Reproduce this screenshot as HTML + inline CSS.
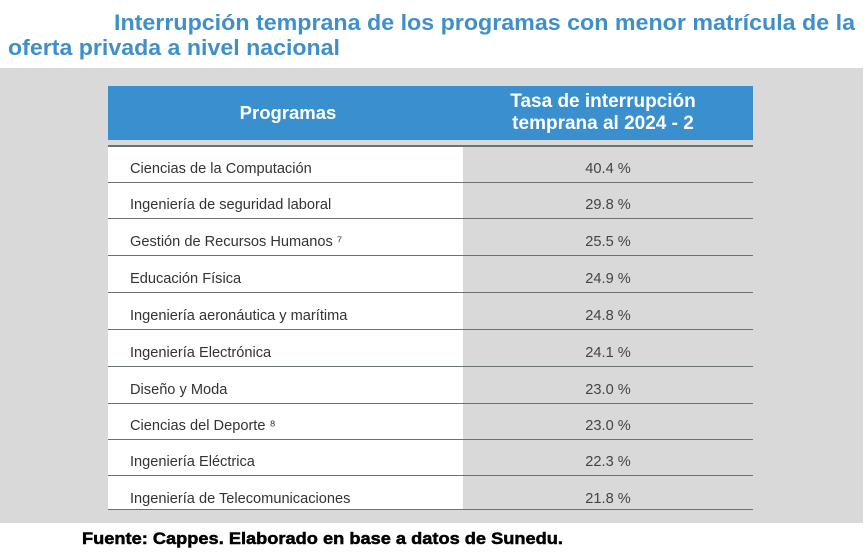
<!DOCTYPE html>
<html><head><meta charset="utf-8"><style>
body{margin:0;width:867px;height:556px;background:#fff;position:relative;overflow:hidden;font-family:"Liberation Sans",sans-serif}
.abs{position:absolute}
.row{position:absolute;left:108px;width:645px;border-bottom:1.5px solid #6b7370}
.name{position:absolute;left:0;top:0;bottom:0;width:355px;background:#fff;color:#333;font-size:14.6px;padding-left:22px;padding-top:10px;box-sizing:border-box;display:flex;align-items:center}
.val{position:absolute;left:355px;right:0;top:0;bottom:0;color:#444;font-size:14.6px;padding-top:10px;box-sizing:border-box;display:flex;align-items:center;justify-content:center}
.row.last .name,.row.last .val{padding-top:14px}
</style></head><body>
<svg class="abs" style="left:0;top:0" width="867" height="68">
<text x="114" y="30" textLength="741" lengthAdjust="spacingAndGlyphs" font-family="Liberation Sans" font-weight="bold" font-size="22" fill="#3f8fc9">Interrupción temprana de los programas con menor matrícula de la</text>
<text x="8" y="55" textLength="332" lengthAdjust="spacingAndGlyphs" font-family="Liberation Sans" font-weight="bold" font-size="22" fill="#3f8fc9">oferta privada a nivel nacional</text>
</svg>
<div class="abs" style="left:0;top:68px;width:863px;height:455px;background:#d9d9d9"></div>
<div class="abs" style="left:108px;top:86px;width:645px;height:54px;background:#3a8fce;color:#fff;font-weight:bold;font-size:18.5px">
<div class="abs" style="left:0;width:360px;top:0;height:54px;display:flex;align-items:center;justify-content:center">Programas</div>
<div class="abs" style="left:345px;right:0;top:0;height:54px;display:flex;align-items:center;justify-content:center;text-align:center;line-height:22px;font-size:19px">Tasa de interrupción<br>temprana al 2024 - 2</div>
</div>
<div class="abs" style="left:108px;top:145px;width:645px;height:1.5px;background:#6b7370"></div>
<div id="rows"></div>
<svg class="abs" style="left:0;top:522px" width="867" height="34">
<text x="82" y="22" textLength="481" lengthAdjust="spacingAndGlyphs" font-family="Liberation Sans" font-weight="bold" font-size="16.5" fill="#000" stroke="#000" stroke-width="0.5">Fuente: Cappes. Elaborado en base a datos de Sunedu.</text>
</svg>
<script>
const programs=["Ciencias de la Computación","Ingeniería de seguridad laboral","Gestión de Recursos Humanos ⁷","Educación Física","Ingeniería aeronáutica y marítima","Ingeniería Electrónica","Diseño y Moda","Ciencias del Deporte ⁸","Ingeniería Eléctrica","Ingeniería de Telecomunicaciones"];
const rates=[40.4,29.8,25.5,24.9,24.8,24.1,23.0,23.0,22.3,21.8];
const tops=[147,183,219,256,293,330,367,404,440,476,510];
const c=document.getElementById('rows');
programs.forEach((p,i)=>{
 const r=document.createElement('div');r.className='row'+(i===programs.length-1?' last':'');
 
 
 r.style.top=tops[i]+'px';r.style.height=(tops[i+1]-tops[i]-1.5)+'px';
 const n=document.createElement('div');n.className='name';n.textContent=p;
 
 
 const v=document.createElement('div');v.className='val';v.textContent=rates[i].toFixed(1)+' %';
 
 
 r.appendChild(n);r.appendChild(v);c.appendChild(r);
});
</script>
</body></html>
